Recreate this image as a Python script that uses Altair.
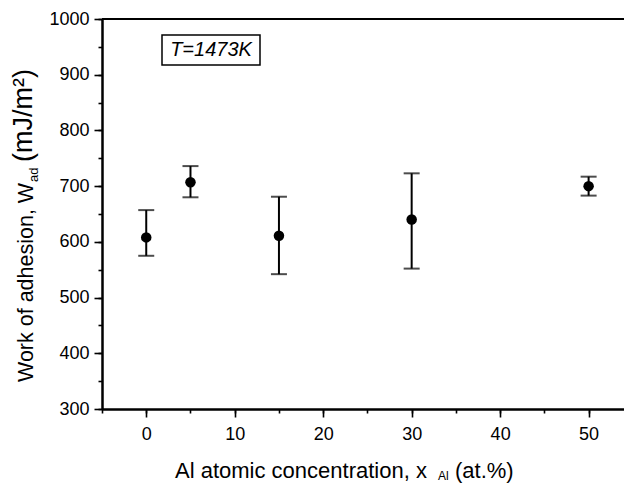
import altair as alt
import pandas as pd

# ---- data ----
conc = [0, 5, 15, 30, 50]            # Al atomic concentration (at.%)
wad = [608, 707, 611, 640, 700]      # work of adhesion (mJ/m2)
wad_hi = [657, 736, 681, 723, 717]   # upper error bound
wad_lo = [575, 680, 542, 552, 683]   # lower error bound

x_major = list(range(0, 51, 10))
x_minor = list(range(-5, 55, 5))
y_major = list(range(300, 1001, 100))
y_minor = list(range(300, 1001, 50))

ytitle_main = "Work of adhesion, W"
ytitle_sub = "ad"
ytitle_unit = "(mJ/m²)"
xtitle_main = "Al atomic concentration, x"
xtitle_sub = "Al"
xtitle_unit = "(at.%)"
annot = "T=1473K"

df = pd.DataFrame({"x": conc, "y": wad, "hi": wad_hi, "lo": wad_lo})

W, H = 522, 390
FONT = "Liberation Sans"

xscale = alt.Scale(domain=[-5, 54], nice=False, zero=False)
yscale = alt.Scale(domain=[300, 1000], nice=False, zero=False)

common_axis = dict(
    domainColor="black", domainWidth=2, tickWidth=1.6, tickColor="black",
    labelFont=FONT, labelFontSize=18, labelColor="black", grid=False,
    title=None, format="d",
)
xaxis = alt.Axis(values=x_major, tickSize=8, labelPadding=8, labelFlush=False,
                 orient="bottom", **common_axis)
yaxis = alt.Axis(values=y_major, tickSize=8, labelPadding=5, orient="left", **common_axis)
xaxis_minor = alt.Axis(values=x_minor, tickSize=4, labels=False, orient="bottom", **common_axis)
yaxis_minor = alt.Axis(values=y_minor, tickSize=4, labels=False, orient="left", **common_axis)

base = alt.Chart(df)
X = alt.X("x:Q", scale=xscale, axis=xaxis)

bars = base.mark_rule(color="black", strokeWidth=2).encode(
    x=X, y=alt.Y("lo:Q", scale=yscale, axis=yaxis), y2="hi:Q"
)
cap_hi = base.mark_tick(color="black", orient="horizontal", size=16, thickness=2).encode(
    x=X, y=alt.Y("hi:Q", scale=yscale, axis=yaxis)
)
cap_lo = base.mark_tick(color="black", orient="horizontal", size=16, thickness=2).encode(
    x=X, y=alt.Y("lo:Q", scale=yscale, axis=yaxis)
)
pts = base.mark_point(filled=True, color="black", size=110, opacity=1, shape="circle").encode(
    x=X, y=alt.Y("y:Q", scale=yscale, axis=yaxis)
)
main = alt.layer(bars, cap_hi, cap_lo, pts)

minor = base.mark_point(opacity=0).encode(
    x=alt.X("x:Q", scale=xscale, axis=xaxis_minor),
    y=alt.Y("y:Q", scale=yscale, axis=yaxis_minor),
)

one = alt.Data(values=[{}])


def label(text, x, y, size=22, angle=0, align="left", baseline="alphabetic", style="normal"):
    kw = dict(text=text, font=FONT, fontSize=size, color="black", align=align,
              baseline=baseline, fontStyle=style)
    if angle:
        kw["angle"] = angle
    return alt.Chart(one).mark_text(**kw).encode(x=alt.value(x), y=alt.value(y))


top_line = alt.Chart(one).mark_rule(color="black", strokeWidth=2).encode(
    x=alt.value(0), x2=alt.value(W), y=alt.value(0)
)
box = alt.Chart(one).mark_rect(fill=None, stroke="black", strokeWidth=1.5, fillOpacity=0).encode(
    x=alt.value(60), x2=alt.value(158), y=alt.value(16), y2=alt.value(46)
)

annots = alt.layer(
    top_line, box,
    label(annot, 109, 31, size=20, align="center", baseline="middle", style="italic"),
    label(ytitle_main, -69, 363, size=21.5, angle=270),
    label(ytitle_sub, -64, 163, size=13, angle=270),
    label(ytitle_unit, -70, 143, size=27, angle=270),
    label(xtitle_main, 73, 459),
    label(xtitle_sub, 336, 461, size=12),
    label(xtitle_unit, 353, 459),
)

chart = alt.layer(main, minor, annots).resolve_axis(
    x="independent", y="independent"
).properties(
    width=W, height=H,
    autosize="none",
    padding={"left": 94, "top": 11, "right": 0, "bottom": 74},
).configure_view(stroke=None).configure(background="white")

chart.save("out.html", embed_options={"renderer": "svg", "actions": False})
